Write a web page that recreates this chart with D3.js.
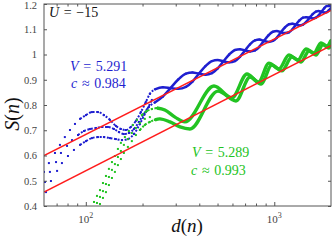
<!DOCTYPE html>
<html>
<head>
<meta charset="utf-8">
<script src="https://cdn.jsdelivr.net/npm/d3@7.9.0/dist/d3.min.js"></script>
<style>
  body { margin: 0; background: #fff; }
  svg { display: block; }
  text { font-family: "Liberation Serif", serif; }
</style>
</head>
<body>
<svg id="chart" width="332" height="240"></svg>
<script>
// values: d(n) and S(n) for each branch of points

// V = 5.291, blue, three branches
const blueAD = [60, 63.7, 68.6, 72.9, 77.4, 82.4, 87.6, 93.2, 100.2, 107.8, 116.0, 124.8, 134.3, 144.5, 153.5, 163.1, 173.4, 184.4, 196.0, 208.2, 218.7,
  232.4, 256.0, 281.4, 309.3, 339.9, 368.1, 398.1, 431.4, 467.0, 501.0, 537.5, 576.7, 619.0, 657.5, 699.3, 743.0, 790.3, 834.4, 881.5, 931.2,
  983.0, 1033, 1084, 1139, 1197, 1249, 1303, 1360, 1420, 1477, 1537, 1599, 1663, 1721, 1779, 1840, 1903, 1950, 1999];
const blueAS = [0.535, 0.570, 0.610, 0.642, 0.673, 0.701, 0.725, 0.745, 0.760, 0.772, 0.772, 0.760, 0.741, 0.717, 0.705, 0.701, 0.713, 0.737, 0.772, 0.812, 0.844,
  0.862, 0.870, 0.867, 0.864, 0.872, 0.893, 0.924, 0.954, 0.974, 0.978, 0.973, 0.969, 0.974, 0.991, 1.016, 1.040, 1.056, 1.059, 1.054, 1.050,
  1.054, 1.067, 1.088, 1.107, 1.120, 1.122, 1.118, 1.115, 1.118, 1.129, 1.145, 1.160, 1.170, 1.172, 1.169, 1.166, 1.168, 1.176, 1.184];

const blueBD = [60.7, 64.5, 69.5, 73.8, 79.5, 84.5, 90.9, 97.8, 105.2, 113.2, 121.8, 131.0, 141.0, 149.8, 159.2, 169.2, 180.0, 191.3, 203.2, 216.0,
  232.4, 256.0, 281.4, 309.3, 339.9, 368.1, 398.1, 431.4, 467.0, 501.0, 537.5, 576.7, 619.0, 657.5, 699.3, 743.0, 790.3, 834.4, 881.5, 931.2,
  983.0, 1033, 1084, 1139, 1197, 1249, 1303, 1360, 1420, 1477, 1537, 1599, 1663, 1721, 1779, 1840, 1903, 1950, 1999];
const blueBS = [0.495, 0.535, 0.574, 0.610, 0.638, 0.661, 0.681, 0.697, 0.705, 0.709, 0.713, 0.713, 0.705, 0.693, 0.685, 0.689, 0.705, 0.733, 0.764, 0.792,
  0.810, 0.833, 0.867, 0.901, 0.924, 0.929, 0.924, 0.920, 0.926, 0.945, 0.973, 1.000, 1.018, 1.021, 1.016, 1.012, 1.016, 1.031, 1.054, 1.076,
  1.090, 1.093, 1.088, 1.085, 1.088, 1.100, 1.118, 1.135, 1.146, 1.148, 1.145, 1.143, 1.146, 1.155, 1.169, 1.183, 1.192, 1.192, 1.192];

const blueCD = [61.5, 65.3, 70.4, 74.7, 80.4, 86.5, 93.2, 100.2, 107.8, 116.0, 124.8, 134.3, 144.5, 155.4, 167.2, 180.0, 193.6, 208.2, 224.1];
const blueCS = [0.455, 0.499, 0.539, 0.570, 0.598, 0.622, 0.642, 0.657, 0.669, 0.673, 0.673, 0.669, 0.665, 0.661, 0.665, 0.685, 0.725, 0.772, 0.820];

// V = 5.289, green, three branches
const greenAD = [110.5, 114.6, 118.9, 123.3, 127.9, 132.6, 137.6, 142.7, 148.0, 153.5, 161.2, 169.2, 177.7, 186.7, 198.4, 210.8, 224.1, 238.2, 262.6, 297.3, 335.8, 478.6, 596.3, 716.6, 824.8, 936.9, 1058, 1197, 1335, 1473, 1624, 1768, 1903, 1999];
const greenAS = [0.416, 0.440, 0.463, 0.491, 0.519, 0.547, 0.574, 0.598, 0.626, 0.650, 0.673, 0.697, 0.721, 0.741, 0.760, 0.776, 0.784, 0.788, 0.780, 0.752, 0.733, 0.875, 0.828, 0.923, 0.891, 0.966, 0.943, 0.998, 0.978, 1.022, 1.006, 1.046, 1.034, 1.057];

const greenBD = [118.9, 123.3, 127.9, 132.6, 137.6, 142.7, 148.0, 153.5, 159.2, 167.2, 175.5, 184.4, 193.6, 205.7, 218.7, 232.4, 247.0, 279.6, 316.1, 357.0, 502.5, 626.6, 743.3, 849.8, 970.9, 1097, 1241, 1386, 1528, 1663, 1812, 1950, 1999];
const greenBS = [0.408, 0.432, 0.455, 0.483, 0.511, 0.535, 0.562, 0.586, 0.610, 0.634, 0.657, 0.681, 0.701, 0.721, 0.733, 0.741, 0.745, 0.733, 0.713, 0.705, 0.855, 0.816, 0.911, 0.883, 0.958, 0.935, 0.990, 0.970, 1.014, 0.998, 1.038, 1.026, 1.038];

const greenCD = [114.6, 118.9, 123.3, 127.9, 132.6, 137.6, 142.7, 148.0, 153.5, 159.2, 167.2, 175.5, 184.4, 193.6, 205.7, 218.7];
const greenCS = [0.412, 0.436, 0.459, 0.487, 0.515, 0.543, 0.566, 0.594, 0.618, 0.642, 0.665, 0.689, 0.709, 0.729, 0.745, 0.752];

// fitted lines S = c/6 ln d + const, end points
const fitD = [60, 2000];
const fitBlueS = [0.600, 1.175];
const fitGreenS = [0.455, 1.035];

const yTicks = [0.4, 0.5, 0.6, 0.7, 0.8, 0.9, 1.0, 1.1, 1.2];
const xMajor = [100, 1000];
const xMinor = [70, 80, 90, 200, 300, 400, 500, 600, 700, 800, 900];

const blue = '#1f1fd0';
const green = '#22c322';
const red = '#ff1c1c';

const svg = d3.select('#chart');
const mLeft = 44, mRight = 331, mTop = 4, mBottom = 206;

const x = d3.scaleLog().domain([60, 2000]).range([mLeft, mRight]);
const y = d3.scaleLinear().domain([0.4, 1.2]).range([mBottom, mTop]);

svg.append('clipPath').attr('id', 'clip')
  .append('rect').attr('x', mLeft).attr('y', mTop).attr('width', mRight - mLeft).attr('height', mBottom - mTop);

const plot = svg.append('g').attr('clip-path', 'url(#clip)');

const toPts = (ds, ss) => ds.map((d, i) => ({ d: d, s: ss[i] }));
const line = d3.line().x((p) => x(p.d)).y((p) => y(p.s)).curve(d3.curveMonotoneX);

// dots everywhere, a dotted trace where the points crowd, a solid band where they merge
function drawBranch(ds, ss, color, dotFrom, solidFrom, width) {
  const pts = toPts(ds, ss);
  const g = plot.append('g');
  g.selectAll('rect').data(pts).join('rect')
    .attr('x', (p) => x(p.d) - 1).attr('y', (p) => y(p.s) - 1)
    .attr('width', 2).attr('height', 2).attr('fill', color);
  let iSolid = pts.findIndex((p) => p.d >= solidFrom);
  if (iSolid < 0) iSolid = pts.length - 1;
  const dotted = pts.slice(0, iSolid + 1).filter((p) => p.d >= dotFrom);
  if (dotted.length > 1) {
    g.append('path').attr('d', line(dotted)).attr('fill', 'none')
      .attr('stroke', color).attr('stroke-width', 2).attr('stroke-dasharray', '2 1.6');
  }
  const solid = pts.slice(iSolid);
  if (solid.length > 1 && pts[iSolid].d >= solidFrom) {
    g.append('path').attr('d', line(solid)).attr('fill', 'none')
      .attr('stroke', color).attr('stroke-width', width).attr('stroke-linejoin', 'round');
  }
}

drawBranch(blueCD, blueCS, blue, 88, 1e9, 2.5);
drawBranch(blueBD, blueBS, blue, 88, 232, 2.5);
drawBranch(blueAD, blueAS, blue, 88, 232, 2.5);
drawBranch(greenCD, greenCS, green, 1e9, 1e9, 3);
drawBranch(greenBD, greenBS, green, 190, 232, 3.4);
drawBranch(greenAD, greenAS, green, 190, 238, 3.4);

[fitBlueS, fitGreenS].forEach((ss) => {
  plot.append('path').attr('d', d3.line().x((p) => x(p.d)).y((p) => y(p.s))(toPts(fitD, ss)))
    .attr('fill', 'none').attr('stroke', red).attr('stroke-width', 1.5);
});

// axes, ticks inward on all four sides
const axisColor = '#555';
function styleAxis(g) {
  g.select('.domain').remove();
  g.selectAll('line').attr('stroke', axisColor);
  g.selectAll('text').attr('fill', '#444').attr('font-size', 10.5)
    .style('font-family', '"Liberation Serif", serif');
}

const xTickAll = xMinor.concat(xMajor);
const xb = svg.append('g').attr('transform', `translate(0,${mBottom})`)
  .call(d3.axisBottom(x).tickValues(xTickAll).tickSize(-2.5).tickFormat(''));
xb.call(styleAxis);
xb.selectAll('.tick').filter((d) => xMajor.includes(d)).select('line').attr('y2', -4);

const xt = svg.append('g').attr('transform', `translate(0,${mTop})`)
  .call(d3.axisTop(x).tickValues(xTickAll).tickSize(-2.5).tickFormat(''));
xt.call(styleAxis);
xt.selectAll('.tick').filter((d) => xMajor.includes(d)).select('line').attr('y2', 4);

xMajor.forEach((v) => {
  const t = svg.append('text').attr('x', x(v)).attr('y', mBottom + 17)
    .attr('text-anchor', 'middle').attr('fill', '#444').attr('font-size', 11);
  t.append('tspan').text('10');
  t.append('tspan').attr('dy', -5).attr('font-size', 8).text(Math.round(Math.log10(v)));
});

const yl = svg.append('g').attr('transform', `translate(${mLeft},0)`)
  .call(d3.axisLeft(y).tickValues(yTicks).tickSize(-3).tickPadding(7).tickFormat(d3.format('~g')));
yl.call(styleAxis);
yl.selectAll('.tick').filter((d) => d === 1.2).select('text').attr('dy', '0.45em');

const yr = svg.append('g').attr('transform', `translate(${mRight},0)`)
  .call(d3.axisRight(y).tickValues(yTicks).tickSize(-3).tickFormat(''));
yr.call(styleAxis);

svg.append('rect').attr('x', mLeft).attr('y', mTop).attr('width', mRight - mLeft).attr('height', mBottom - mTop)
  .attr('fill', 'none').attr('stroke', axisColor).attr('stroke-width', 1);

// labels
function mathText(px, py, parts, color, size) {
  const t = svg.append('text').attr('x', px).attr('y', py).attr('fill', color).attr('font-size', size)
    .attr('xml:space', 'preserve');
  parts.forEach(([s, it]) => t.append('tspan').attr('font-style', it ? 'italic' : 'normal').text(s));
  return t;
}

mathText(49, 17, [['U', true], ['\u2004=\u2004\u221215', false]], '#111', 14);
mathText(70, 71, [['V', true], ['\u2004=\u20045.291', false]], blue, 14);
mathText(71, 88, [['c', true], ['\u2004\u2248\u20040.984', false]], blue, 14);
mathText(192, 157, [['V', true], ['\u2004=\u20045.289', false]], green, 14);
mathText(191, 175, [['c', true], ['\u2004\u2248\u20040.993', false]], green, 14);

mathText(0, 232, [['d', true], ['(', false], ['n', true], [')', false]], '#111', 19)
  .attr('x', 187).attr('text-anchor', 'middle');

mathText(0, 0, [['S', true], ['(', false], ['n', true], [')', false]], '#111', 20)
  .attr('text-anchor', 'middle').attr('transform', 'translate(19,114) rotate(-90)');
</script>
</body>
</html>
